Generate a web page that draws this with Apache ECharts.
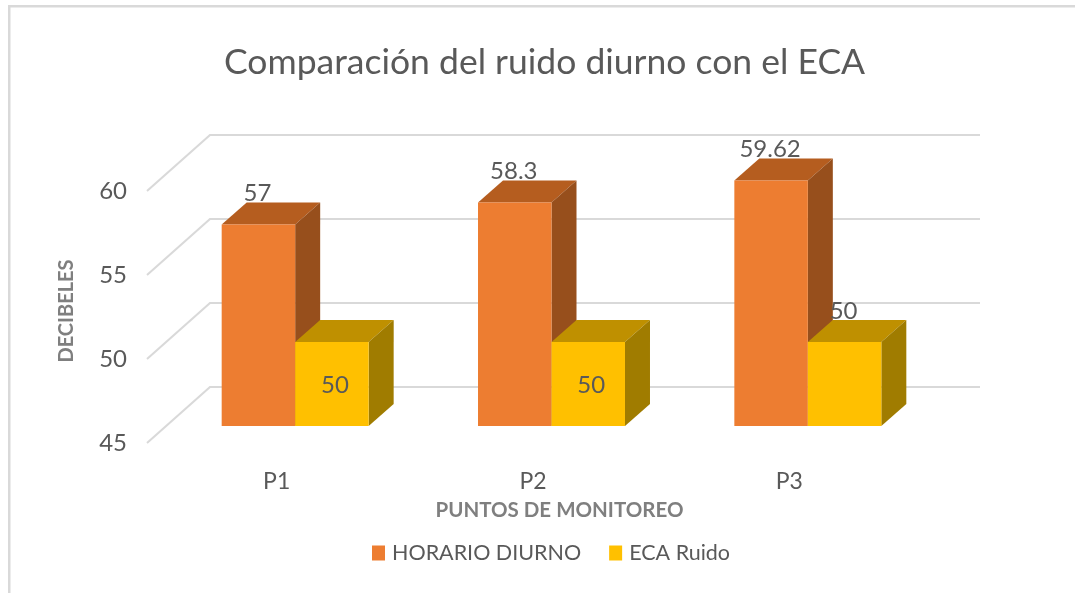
<!DOCTYPE html>
<html><head><meta charset="utf-8"><style>html,body{margin:0;padding:0;background:#fff}#c{width:1075px;height:593px}</style></head>
<body><div id="c"></div>
<script src="https://cdn.jsdelivr.net/npm/echarts@6/dist/echarts.min.js"></script>
<script>
var categories = ['P1', 'P2', 'P3'];
var horarioDiurno = [57, 58.3, 59.62];
var ecaRuido = [50, 50, 50];
var yTicks = [45, 50, 55, 60];
var FONT = 'Lato, "Open Sans", sans-serif';
var BAR_FRAC = 0.2867, SHIFT_X = 20, SHIFT_Y = -17, DX = 25, DY = -22;
var WALL_DX = 63, WALL_DY = -56;

function wall(params, api) {
  var cs = params.coordSys;
  var y = api.coord([0, api.value(0)])[1];
  return { type: 'polyline', silent: true,
    shape: { points: [[cs.x, y], [cs.x + WALL_DX, y + WALL_DY], [cs.x + cs.width + WALL_DX + 1, y + WALL_DY]] },
    style: { stroke: '#d9d9d9', lineWidth: 2, fill: null } };
}
function bar3d(pal, side, labelMode) {
  return function (params, api) {
    var c = api.coord([api.value(0), api.value(1)]);
    var base = api.coord([api.value(0), 45]);
    var w = api.size([1, 0])[0] * BAR_FRAC;
    var x0 = c[0] + SHIFT_X + (side < 0 ? -w : 0), x1 = x0 + w;
    var t = c[1] + SHIFT_Y, b = base[1] + SHIFT_Y;
    var mode = labelMode[params.dataIndex];
    var txt = {
      type: 'text',
      style: { text: String(api.value(1)), font: '24px ' + FONT, fill: '#595959', textAlign: 'center',
        textVerticalAlign: 'bottom', x: x0 + w / 2 + (mode === 'inside' ? 3 : -1),
        y: mode === 'inside' ? (t + b) / 2 + 13 : t + DY + 3 }
    };
    var kids = [
      { type: 'polygon', shape: { points: [[x0, t], [x1, t], [x1 + DX, t + DY], [x0 + DX, t + DY]] }, style: { fill: pal[1] } },
      { type: 'polygon', shape: { points: [[x1, t], [x1 + DX, t + DY], [x1 + DX, b + DY], [x1, b]] }, style: { fill: pal[2] } },
      { type: 'rect', shape: { x: x0, y: t, width: w, height: b - t }, style: { fill: pal[0] } }
    ];
    if (mode === 'inside') kids.push(txt); else kids.unshift(txt);
    return { type: 'group', children: kids };
  };
}
var option = {
  backgroundColor: '#fff', animation: false,
  title: { text: 'Comparación del ruido diurno con el ECA', left: 219, top: 40,
    textStyle: { fontFamily: FONT, fontSize: 35.5, fontWeight: 400, color: '#595959' } },
  legend: { data: ['HORARIO DIURNO', 'ECA Ruido'], left: 367, top: 537, itemWidth: 13, itemHeight: 15, itemGap: 28,
    icon: 'rect', textStyle: { fontFamily: FONT, fontSize: 21.5, color: '#595959', padding: [0, 0, 0, 2] } },
  grid: { left: 147, top: 191, width: 769, height: 252 },
  xAxis: { type: 'category', data: categories, name: 'PUNTOS DE MONITOREO', nameLocation: 'middle', nameGap: 57,
    nameTextStyle: { fontFamily: FONT, fontSize: 20.5, fontWeight: 'bold', color: '#7f7f7f', padding: [0, 0, 0, 56] },
    axisLine: { show: false }, axisTick: { show: false }, splitLine: { show: false },
    axisLabel: { margin: 27, fontFamily: FONT, fontSize: 23, color: '#595959', padding: [0, 0, 0, 3] } },
  yAxis: { type: 'value', min: 45, max: 60, interval: 5, name: 'DECIBELES', nameLocation: 'middle', nameRotate: 90, nameGap: 70,
    nameTextStyle: { fontFamily: FONT, fontSize: 20, fontWeight: 'bold', color: '#7f7f7f', padding: [0, 0, 0, 12] },
    axisLine: { show: false }, axisTick: { show: false }, splitLine: { show: false },
    axisLabel: { margin: 20, fontFamily: FONT, fontSize: 24, color: '#595959' } },
  series: [
    { type: 'custom', name: 'wall', silent: true, renderItem: wall, data: yTicks.map(function (v) { return [v]; }), encode: { y: 0 }, z: 1 },
    { type: 'custom', name: 'HORARIO DIURNO', itemStyle: { color: '#ED7D31' }, z: 2,
      renderItem: bar3d(['#ED7D31', '#B55D1F', '#974F1C'], -1, ['above', 'above', 'above']),
      data: horarioDiurno.map(function (v, i) { return [i, v]; }), encode: { x: 0, y: 1 } },
    { type: 'custom', name: 'ECA Ruido', itemStyle: { color: '#FFC000' }, z: 3,
      renderItem: bar3d(['#FFC000', '#BF9000', '#A07C00'], 1, ['inside', 'inside', 'above']),
      data: ecaRuido.map(function (v, i) { return [i, v]; }), encode: { x: 0, y: 1 } }
  ],
  graphic: [
    { type: 'rect', shape: { x: 8, y: 5, width: 1067, height: 2.5 }, style: { fill: '#d9d9d9' } },
    { type: 'rect', shape: { x: 8, y: 5, width: 2.5, height: 588 }, style: { fill: '#d9d9d9' } }
  ]
};
echarts.init(document.getElementById('c')).setOption(option);
</script></body></html>
